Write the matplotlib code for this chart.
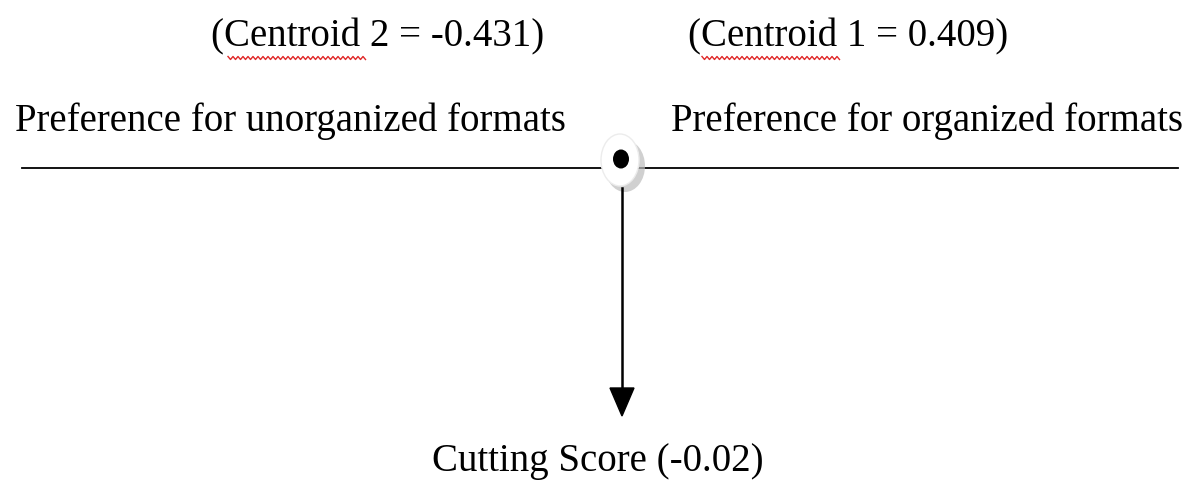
import numpy as np
import matplotlib.pyplot as plt
from matplotlib.patches import Ellipse

# данные схемы
centroid_names = ['Centroid 2', 'Centroid 1']
centroid_values = [-0.431, 0.409]
side_labels = ['Preference for unorganized formats', 'Preference for organized formats']
cutting_score = -0.02

plt.rcParams['font.family'] = ['Liberation Serif', 'DejaVu Serif']

fig = plt.figure(figsize=(11.98, 4.83), dpi=100)
ax = fig.add_axes([0, 0, 1, 1])
ax.set_xlim(0, 1198)
ax.set_ylim(483, 0)
ax.axis('off')

fs = 28

# подписи центроидов
cx = [378, 848]
for x, name, v in zip(cx, centroid_names, centroid_values):
    ax.text(x, 37, '(%s = %s)' % (name, ('%.3f' % v)), ha='center', va='center',
            fontsize=fs, color='black')

# волнистое подчёркивание (проверка орфографии)
for x0, x1 in [(228, 365), (702, 840)]:
    xs = np.arange(x0, x1 + 1, 2.5)
    ys = 58 + np.where(np.arange(len(xs)) % 2 == 0, -1.5, 1.5)
    ax.plot(xs, ys, color='#e02828', lw=1.0)

# подписи сторон
for x, lab in zip([290, 927], side_labels):
    ax.text(x, 121, lab, ha='center', va='center', fontsize=fs)

# основная линия
ax.plot([22, 1178], [168, 168], color='black', lw=1.3, zorder=1)

# точка разделения
ax.add_patch(Ellipse((625, 166), 40, 52, facecolor='#bdbdbd', edgecolor='none', alpha=0.7, zorder=2))
ax.add_patch(Ellipse((620, 160), 38, 52, facecolor='white', edgecolor='#ececec', lw=1, zorder=3))
ax.add_patch(Ellipse((621, 159), 16, 19, facecolor='black', edgecolor='none', zorder=4))

# стрелка вниз
ax.plot([622, 622], [188, 392], color='black', lw=1.8, zorder=2)
ax.add_patch(plt.Polygon([[610, 388], [634, 388], [622, 416]], closed=True,
                         facecolor='black', edgecolor='black', zorder=2))

ax.text(598, 461, 'Cutting Score (%s)' % ('%.2f' % cutting_score), ha='center', va='center',
        fontsize=fs)

fig.savefig('out.png', dpi=100)
